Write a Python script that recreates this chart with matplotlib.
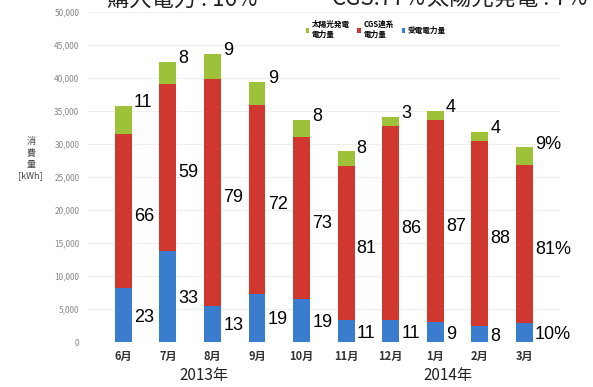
import numpy as np
import matplotlib
matplotlib.use("Agg")
import matplotlib.pyplot as plt

plt.rcParams['font.family'] = ['Noto Sans CJK JP', 'DejaVu Sans']

# data (kWh)
months = ['6月', '7月', '8月', '9月', '10月', '11月', '12月', '1月', '2月', '3月']
grid_kwh = [8200, 13800, 5500, 7300, 6500, 3300, 3300, 3000, 2400, 2900]
cgs_kwh = [23300, 25300, 34300, 28600, 24600, 23400, 29400, 30600, 28100, 23900]
pv_kwh = [4300, 3300, 3800, 3500, 2500, 2200, 1400, 1400, 1300, 2700]

# percentage labels as printed
grid_pct = ['23', '33', '13', '19', '19', '11', '11', '9', '8', '10%']
cgs_pct = ['66', '59', '79', '72', '73', '81', '86', '87', '88', '81%']
pv_pct = ['11', '8', '9', '9', '8', '8', '3', '4', '4', '9%']

# summary line at the top (cut off in the original)
summary = ['購入電力 : 16%', 'CGS:77%', '太陽光発電 : 7%']

yticks = np.arange(0, 50001, 5000)

c_grid = '#3a7dcf'
c_cgs = '#d0372e'
c_pv = '#9dc23a'

fig = plt.figure(figsize=(5.93, 3.87), dpi=100)
ax = fig.add_axes([0.148, 0.116, 0.796, 0.853])

x = np.arange(len(months))
w = 0.38
grid = np.array(grid_kwh)
cgs = np.array(cgs_kwh)
pv = np.array(pv_kwh)

ax.bar(x, grid, w, color=c_grid, label='受電電力量')
ax.bar(x, cgs, w, bottom=grid, color=c_cgs, label='CGS連系\n電力量')
ax.bar(x, pv, w, bottom=grid + cgs, color=c_pv, label='太陽光発電\n電力量')

lab_x = x + w / 2 + 0.05
for i in range(len(months)):
    ax.text(lab_x[i], grid[i] / 2 - 300, grid_pct[i], fontsize=13, va='center',
            ha='left', family=['Liberation Sans'])
    ax.text(lab_x[i], grid[i] + cgs[i] / 2 - 800, cgs_pct[i], fontsize=13, va='center',
            ha='left', family=['Liberation Sans'])
    ax.text(lab_x[i], grid[i] + cgs[i] + pv[i] + 500, pv_pct[i], fontsize=13, va='center',
            ha='left', family=['Liberation Sans'])

ax.set_xlim(-0.8, 9.8)
ax.set_ylim(0, 50000)
ax.set_yticks(yticks)
ax.set_yticklabels([f'{v:,}' for v in yticks], fontsize=6, color='#888888')
ax.set_xticks(x)
ax.set_xticklabels(months, fontsize=8, fontweight='bold', color='#333333')
ax.tick_params(length=0, pad=6)
ax.grid(axis='y', color='#eeeeee', lw=0.8)
ax.set_axisbelow(True)
for s in ax.spines.values():
    s.set_visible(False)

# year labels under the months
ax.text(1.8, -0.075, '2013年', transform=ax.get_xaxis_transform(), ha='center',
        va='top', fontsize=11, color='#222222')
ax.text(7.3, -0.075, '2014年', transform=ax.get_xaxis_transform(), ha='center',
        va='top', fontsize=11, color='#222222')

# y label stacked vertically
fig.text(0.052, 0.59, '消\n費\n量\n[kWh]', ha='center', va='center', fontsize=6.5,
         color='#444444', linespacing=1.35)

handles, labels = ax.get_legend_handles_labels()
leg = ax.legend(handles[::-1], labels[::-1], loc='upper left', bbox_to_anchor=(0.455, 0.985),
                ncol=3, frameon=False, fontsize=5.5, handlelength=0.5, handleheight=0.5,
                handletextpad=0.3, columnspacing=1.0, borderaxespad=0)
for t in leg.get_texts():
    t.set_fontweight('bold')

for txt, xf in zip(summary, [107 / 593, 332 / 593, 427 / 593]):
    fig.text(xf, 0.986, txt, ha='left', va='baseline', fontsize=16, color='#222222')

fig.savefig('out.png', dpi=100)
